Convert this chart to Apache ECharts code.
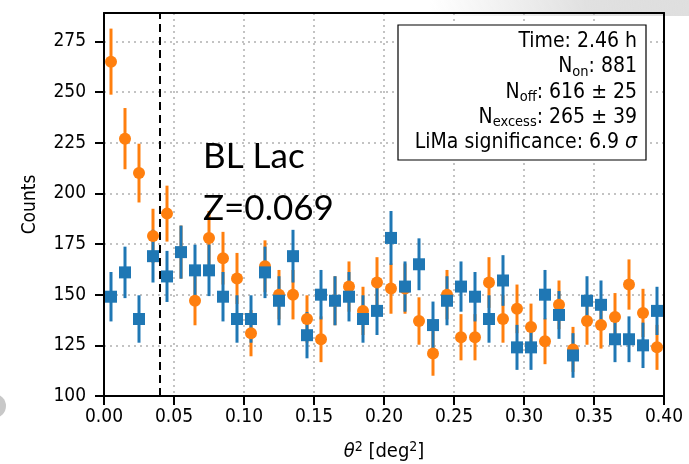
<!DOCTYPE html>
<html>
<head>
<meta charset="utf-8">
<script src="https://cdn.jsdelivr.net/npm/echarts@6/dist/echarts.min.js"></script>
<style>
  html, body { margin: 0; padding: 0; background: #fff; }
  #chart { width: 689px; height: 464px; }
</style>
</head>
<body>
<div id="chart"></div>
<script>
// theta^2 bin centres (bin width 0.01 deg^2)
const thetaSq = [0.005, 0.015, 0.025, 0.035, 0.045, 0.055, 0.065, 0.075, 0.085, 0.095,
  0.105, 0.115, 0.125, 0.135, 0.145, 0.155, 0.165, 0.175, 0.185, 0.195,
  0.205, 0.215, 0.225, 0.235, 0.245, 0.255, 0.265, 0.275, 0.285, 0.295,
  0.305, 0.315, 0.325, 0.335, 0.345, 0.355, 0.365, 0.375, 0.385, 0.395];

// ON counts (orange) and their errors
const onCounts = [265, 227, 210, 179, 190, 171, 147, 178, 168, 158,
  131, 164, 150, 150, 138, 128, 147, 154, 142, 156,
  153, 153, 137, 121, 150, 129, 129, 156, 138, 143,
  134, 127, 145, 123, 137, 135, 139, 155, 141, 124];
const onErr = [16.3, 15.1, 14.5, 13.4, 13.8, 13.1, 12.1, 13.3, 13.0, 12.6,
  11.4, 12.8, 12.2, 12.2, 11.7, 11.3, 12.1, 12.4, 11.9, 12.5,
  12.4, 12.4, 11.7, 11.0, 12.2, 11.4, 11.4, 12.5, 11.7, 12.0,
  11.6, 11.3, 12.0, 11.1, 11.7, 11.6, 11.8, 12.4, 11.9, 11.1];

// OFF counts (blue) and their errors
const offCounts = [149, 161, 138, 169, 159, 171, 162, 162, 149, 138,
  138, 161, 147, 169, 130, 150, 147, 149, 138, 142,
  178, 154, 165, 135, 147, 154, 149, 138, 157, 124,
  124, 150, 140, 120, 147, 145, 128, 128, 125, 142];
const offErr = [12.2, 12.7, 11.7, 13.0, 12.6, 13.1, 12.7, 12.7, 12.2, 11.7,
  11.7, 12.7, 12.1, 13.0, 11.4, 12.2, 12.1, 12.2, 11.7, 11.9,
  13.3, 12.4, 12.8, 11.6, 12.1, 12.4, 12.2, 11.7, 12.5, 11.1,
  11.1, 12.2, 11.8, 11.0, 12.1, 12.0, 11.3, 11.3, 11.2, 11.9];

const thetaCut = 0.04;
const statLines = ["Time: 2.46 h", ["N", "on", ": 881"], ["N", "off", ": 616 \u00b1 25"],
  ["N", "excess", ": 265 \u00b1 39"], "LiMa significance: 6.9 "];
const sourceLabels = ["BL Lac", "Z=0.069"];

const X_MIN = 0, X_MAX = 0.4, X_STEP = 0.05;
const Y_MIN = 100, Y_MAX = 289, Y_STEP = 25;

const FONT = '"DejaVu Sans Condensed", "DejaVu Sans", sans-serif';
const ORANGE = "#ff7f0e";
const BLUE = "#1f77b4";

const chart = echarts.init(document.getElementById("chart"), null, { renderer: "canvas" });

const errorSeries = (ys, errs, color) => ({
  type: "custom",
  silent: true,
  renderItem: (params, api) => {
    const x = api.value(0);
    const p1 = api.coord([x, api.value(1)]);
    const p2 = api.coord([x, api.value(2)]);
    return {
      type: "line",
      shape: { x1: p1[0], y1: p1[1], x2: p2[0], y2: p2[1] },
      style: { stroke: color, lineWidth: 3 },
    };
  },
  encode: { x: 0, y: [1, 2] },
  data: thetaSq.map((x, i) => [x, ys[i] - errs[i], ys[i] + errs[i]]),
});

// just the frame on the top / right side
const frameAxis = (position, min, max) => ({
  type: "value", position, min, max,
  axisLine: { show: true, onZero: false, lineStyle: { color: "#000", width: 2 } },
  axisTick: { show: false },
  axisLabel: { show: false },
  splitLine: { show: false },
});

// text box lines as rich text
const boxText = statLines.map((l) => {
  if (typeof l === "string") return "{n|" + l + "}" + (l.startsWith("LiMa") ? "{i|\u03c3}" : "");
  return "{n|" + l[0] + "}{s|" + l[1] + "}{n|" + l[2] + "}";
}).join("\n");

chart.setOption({
  animation: false,
  textStyle: { fontFamily: FONT },
  grid: { left: 104, right: 25, top: 13, bottom: 68, outerBoundsMode: "none" },
  xAxis: [{
    type: "value",
    position: "bottom",
    min: X_MIN, max: X_MAX, interval: X_STEP,
    name: "{it|\u03b8}{sup|2}{n| [deg}{sup|2}{n|]}",
    nameLocation: "middle",
    nameGap: 44,
    nameTextStyle: {
      color: "#000", fontSize: 20, fontFamily: FONT,
      rich: {
        it: { fontStyle: "italic", fontSize: 20, lineHeight: 24, fontFamily: FONT, color: "#000" },
        n: { fontSize: 20, lineHeight: 24, fontFamily: FONT, color: "#000" },
        sup: { fontSize: 14, lineHeight: 14, verticalAlign: "top", fontFamily: FONT, color: "#000" },
      },
    },
    axisLine: { onZero: false, lineStyle: { color: "#000", width: 2 } },
    axisTick: { inside: false, length: 9, lineStyle: { color: "#000", width: 2 } },
    axisLabel: { color: "#000", fontSize: 19, margin: 12, formatter: (v) => v.toFixed(2) },
    splitLine: { show: true, lineStyle: { color: "#b0b0b0", type: [2, 4], width: 1.5 } },
  }, frameAxis("top", X_MIN, X_MAX)],
  yAxis: [{
    type: "value",
    position: "left",
    min: Y_MIN, max: Y_MAX, interval: Y_STEP,
    name: "Counts",
    nameLocation: "middle",
    nameGap: 64,
    nameTextStyle: { color: "#000", fontSize: 19 },
    axisLine: { onZero: false, lineStyle: { color: "#000", width: 2 } },
    axisTick: { inside: false, length: 9, lineStyle: { color: "#000", width: 2 } },
    axisLabel: { color: "#000", fontSize: 19, margin: 18, showMaxLabel: false },
    splitLine: { show: true, lineStyle: { color: "#b0b0b0", type: [2, 4], width: 1.5 } },
  }, frameAxis("right", Y_MIN, Y_MAX)],
  series: [
    errorSeries(onCounts, onErr, ORANGE),
    {
      type: "scatter",
      symbol: "circle",
      symbolSize: 12,
      itemStyle: { color: ORANGE, opacity: 1 },
      data: thetaSq.map((x, i) => [x, onCounts[i]]),
      markLine: {
        silent: true,
        symbol: "none",
        label: { show: false },
        lineStyle: { color: "#000", type: [8, 5], width: 2 },
        data: [{ xAxis: thetaCut }],
      },
    },
    errorSeries(offCounts, offErr, BLUE),
    {
      type: "scatter",
      symbol: "rect",
      symbolSize: 12,
      itemStyle: { color: BLUE, opacity: 1 },
      data: thetaSq.map((x, i) => [x, offCounts[i]]),
    },
  ],
  graphic: [
    // slide artefacts around the picture
    {
      type: "rect",
      z: -10,
      shape: { x: 430, y: 0, width: 259, height: 16 },
      style: {
        fill: new echarts.graphic.LinearGradient(0, 0, 1, 1, [
          { offset: 0, color: "rgba(200,200,200,0)" },
          { offset: 0.6, color: "rgba(200,200,200,0.55)" },
          { offset: 1, color: "rgba(215,215,215,0.8)" },
        ]),
      },
    },
    {
      type: "circle",
      z: -10,
      shape: { cx: -6, cy: 406, r: 12 },
      style: { fill: "#c8c8c8" },
    },
    {
      type: "rect",
      z: 100,
      shape: { x: 398, y: 25, width: 248, height: 135 },
      style: { fill: "#fff", stroke: "#000", lineWidth: 1.2 },
    },
    {
      type: "text",
      z: 101,
      x: 637, y: 29,
      style: {
        text: boxText,
        align: "right",
        verticalAlign: "top",
        fill: "#000",
        rich: {
          n: { fontSize: 21, lineHeight: 25.3, fontFamily: FONT, fill: "#000" },
          s: { fontSize: 14.5, lineHeight: 14, verticalAlign: "bottom", fontFamily: FONT, fill: "#000" },
          i: { fontSize: 21, lineHeight: 25.3, fontStyle: "italic", fontFamily: FONT, fill: "#000" },
        },
      },
    },
    {
      type: "text",
      z: 102,
      x: 203, y: 139,
      style: { text: sourceLabels[0], fontSize: 35, fontFamily: "Lato, sans-serif", fill: "#000", verticalAlign: "top" },
    },
    {
      type: "text",
      z: 102,
      x: 203, y: 191,
      style: { text: sourceLabels[1], fontSize: 35, fontFamily: "Lato, sans-serif", fill: "#000", verticalAlign: "top" },
    },
  ],
});
</script>
</body>
</html>
